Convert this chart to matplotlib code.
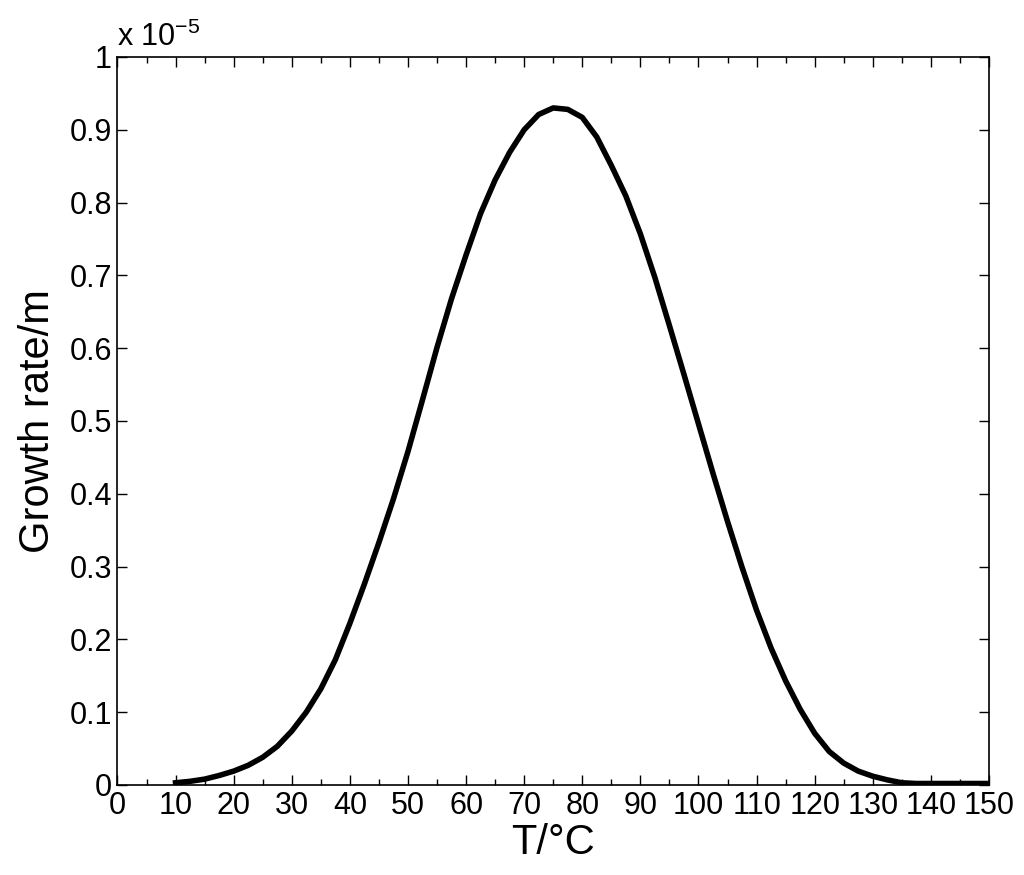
import matplotlib
matplotlib.use('Agg')
import matplotlib.pyplot as plt
from matplotlib.ticker import MultipleLocator, FuncFormatter

plt.rcParams['font.family'] = ['Liberation Sans', 'DejaVu Sans']
plt.rcParams['mathtext.fontset'] = 'custom'
plt.rcParams['mathtext.rm'] = 'Liberation Sans'
plt.rcParams['mathtext.it'] = 'Liberation Sans'

# temperature (degC) and growth rate (x 1e-5 m)
temperature = [10, 12.5, 15, 17.5, 20, 22.5, 25, 27.5, 30, 32.5, 35, 37.5,
               40, 42.5, 45, 47.5, 50, 52.5, 55, 57.5, 60, 62.5, 65, 67.5,
               70, 72.5, 75, 77.5, 80, 82.5, 85, 87.5, 90, 92.5, 95, 97.5,
               100, 102.5, 105, 107.5, 110, 112.5, 115, 117.5, 120, 122.5,
               125, 127.5, 130, 132.5, 135, 137.5, 140, 145, 150]
growth_rate = [0.003, 0.005, 0.008, 0.013, 0.019, 0.027, 0.038, 0.053,
               0.074, 0.100, 0.132, 0.172, 0.222, 0.276, 0.333, 0.393,
               0.458, 0.529, 0.601, 0.668, 0.728, 0.785, 0.831, 0.869,
               0.900, 0.921, 0.930, 0.928, 0.917, 0.890, 0.851, 0.809,
               0.757, 0.697, 0.631, 0.564, 0.496, 0.428, 0.362, 0.299,
               0.240, 0.188, 0.143, 0.104, 0.071, 0.046, 0.030, 0.019,
               0.012, 0.007, 0.003, 0.002, 0.002, 0.002, 0.002]


def main():
    fig = plt.figure(figsize=(10.24, 8.75), dpi=100)
    ax = fig.add_axes([0.1147, 0.1029, 0.8511, 0.832])

    ax.plot(temperature, growth_rate, color='black', linewidth=4.0,
            solid_joinstyle='round')

    ax.set_xlim(0, 150)
    ax.set_ylim(0, 1)
    ax.xaxis.set_major_locator(MultipleLocator(10))
    ax.xaxis.set_minor_locator(MultipleLocator(5))
    ax.yaxis.set_major_locator(MultipleLocator(0.1))
    ax.yaxis.set_major_formatter(FuncFormatter(lambda v, p: '%g' % round(v, 1)))
    ax.tick_params(which='both', direction='in', top=True, right=True,
                   labelsize=22, width=1, pad=4)
    ax.tick_params(which='major', length=7)
    ax.tick_params(which='minor', length=4)
    for spine in ax.spines.values():
        spine.set_linewidth(1.2)

    ax.set_xlabel('T/°C', fontsize=30, labelpad=2)
    ax.set_ylabel('Growth rate/m', fontsize=30, labelpad=8)
    ax.text(0.0, 1.006, r'x 10$^{-5}$', transform=ax.transAxes,
            fontsize=22, ha='left', va='bottom')

    fig.savefig('out.png', dpi=100, facecolor='white')


if __name__ == '__main__':
    main()
